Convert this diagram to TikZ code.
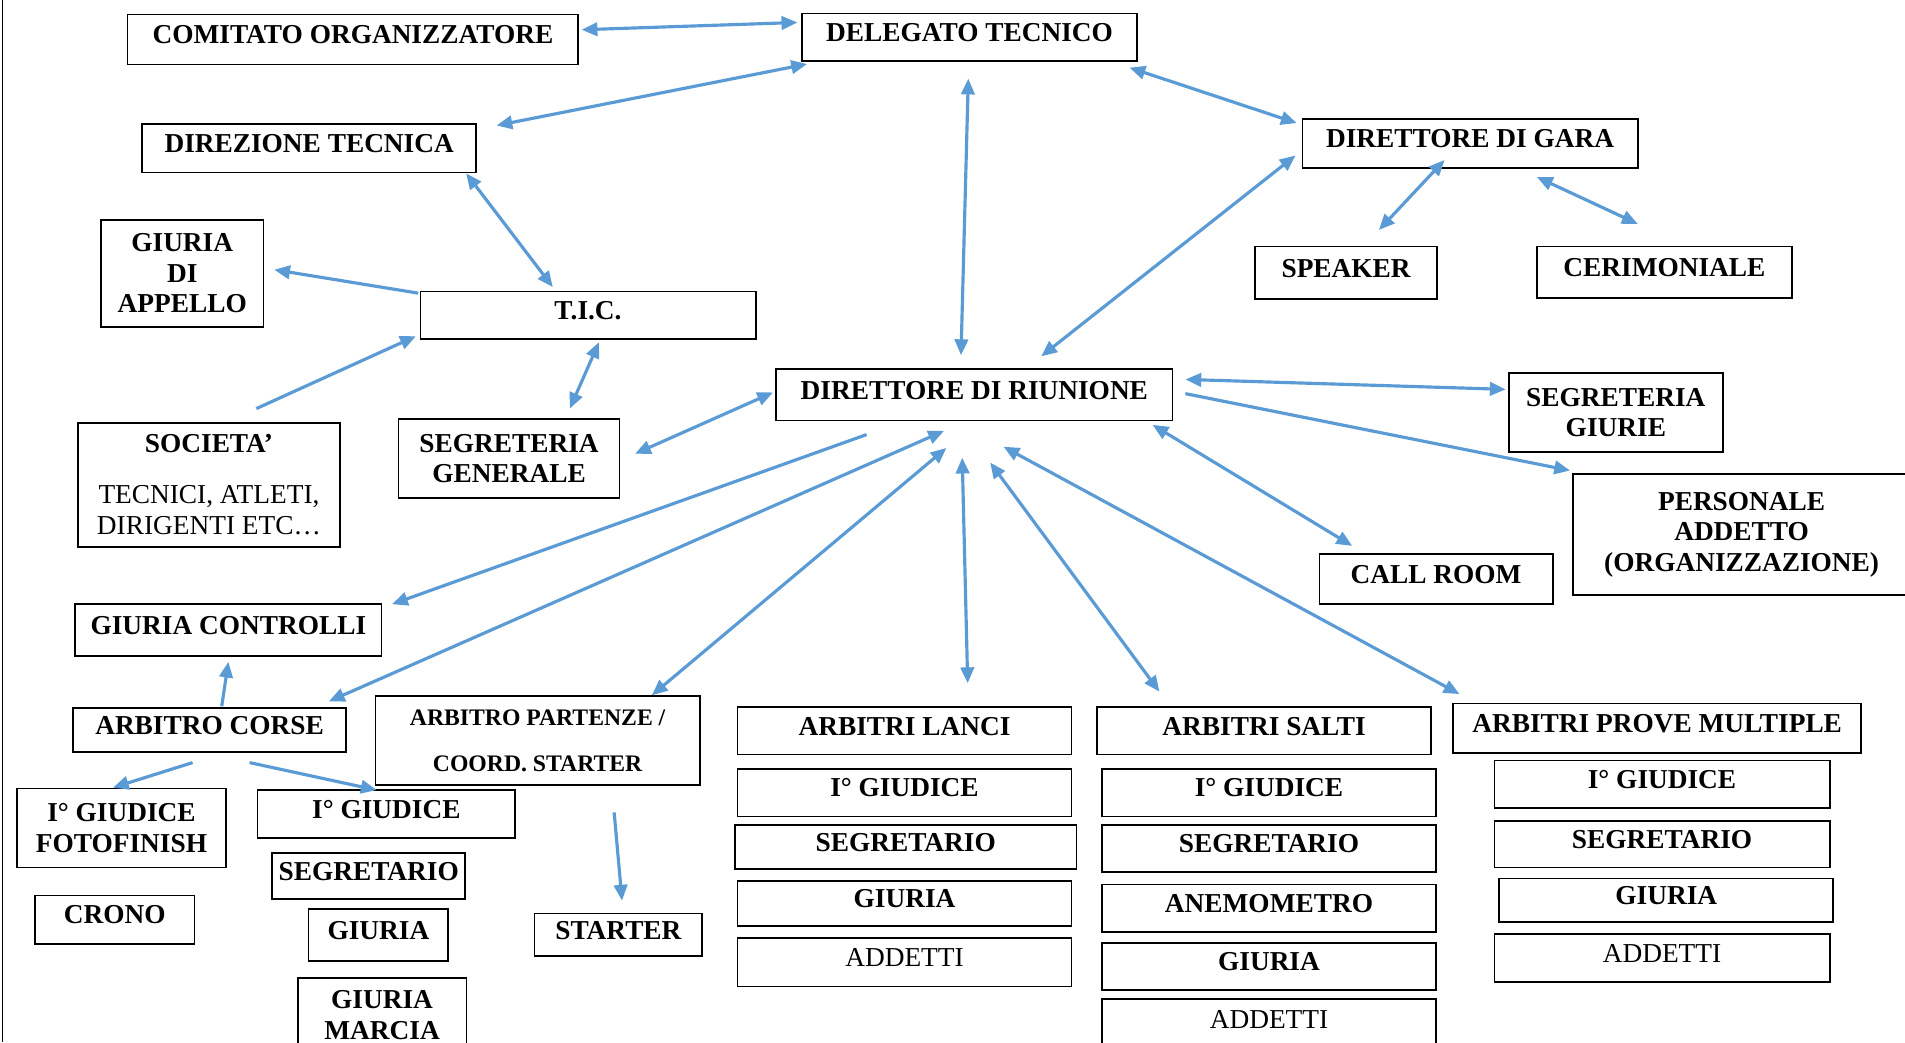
\documentclass[tikz,border=0pt]{standalone}
\usepackage{xcolor}
\usepackage{fontspec}
\setmainfont{Liberation Serif}
\usepackage{tikz}
\usetikzlibrary{arrows.meta,calc}

\definecolor{linkblue}{HTML}{5B9BD5}

\tikzset{
  box/.style={draw, line width=1.4pt, inner sep=0pt, align=center,
    font=\bfseries\fontsize{22.5}{25}\selectfont},
  one/.style={text height=15pt, text depth=8pt},
  link/.style={draw=linkblue, line width=2.6pt,
    >={Triangle[width=11pt,length=13pt]}},
  thin/.style={font=\mdseries\fontsize{22.5}{25}\selectfont}
}

% box from corner (x1,y1) to corner (x2,y2)
\newcommand\orgbox[7][one]{%
  \node[box,#1, minimum width={(#5-#3)*1pt}, minimum height={(#6-#4)*1pt}]
    (#2) at ({(#3+#5)/2},{(#4+#6)/2}) {#7};}

\begin{document}
\begin{tikzpicture}[x=1pt,y=-1pt]
\clip (0,0) rectangle (1568,858);
\fill[white] (0,0) rectangle (1568,858);
\draw[line width=1.2pt] (2,0) -- (2,858);

% top levels
\orgbox{com}{105}{12}{476}{53}{COMITATO ORGANIZZATORE}
\orgbox{del}{660}{11}{936}{50}{DELEGATO TECNICO}
\orgbox{dirtec}{117}{102}{392}{142}{DIREZIONE TECNICA}
\orgbox{dirgara}{1072}{98}{1348}{138}{DIRETTORE DI GARA}
\orgbox[]{appello}{83}{181}{217}{269}{GIURIA\\DI\\APPELLO}
\orgbox{tic}{346}{240}{622}{279}{T.I.C.}
\orgbox{speaker}{1033}{203}{1183}{246}{SPEAKER}
\orgbox{ceri}{1265}{203}{1475}{245}{CERIMONIALE}
\orgbox{riunione}{639}{304}{965}{346}{DIRETTORE DI RIUNIONE}
\orgbox[]{seggiur}{1242}{307}{1418}{372}{SEGRETERIA\\GIURIE}
\orgbox[]{seggen}{328}{345}{510}{410}{SEGRETERIA\\GENERALE}
\orgbox[]{soc}{64}{348}{280}{450}{SOCIETA’\\[17pt]{\mdseries TECNICI, ATLETI,}\\{\mdseries DIRIGENTI ETC\ldots}}
\orgbox[]{pers}{1295}{390}{1572}{490}{PERSONALE\\ADDETTO\\(ORGANIZZAZIONE)}
\orgbox{callroom}{1086}{456}{1278}{497}{CALL ROOM}
\orgbox{giucon}{62}{497}{314}{540}{GIURIA CONTROLLI}

% corse
\orgbox{corse}{60}{583}{285}{619}{ARBITRO CORSE}
\orgbox[font=\bfseries\fontsize{19.5}{38}\selectfont]{partenze}{309}{573}{576}{646}{ARBITRO PARTENZE /\\COORD. STARTER}
\orgbox[]{fotofin}{14}{649}{186}{714}{I° GIUDICE\\FOTOFINISH}
\orgbox{giucorse}{212}{650}{424}{690}{I° GIUDICE}
\orgbox{segcorse}{224}{702}{383}{740}{SEGRETARIO}
\orgbox{crono}{29}{737}{160}{777}{CRONO}
\orgbox{giuria}{254}{748}{369}{791}{GIURIA}
\orgbox{starter}{440}{752}{578}{787}{STARTER}
\orgbox[]{marcia}{245}{805}{384}{866}{GIURIA\\MARCIA}

% lanci
\orgbox{lanci}{607}{582}{882}{621}{ARBITRI LANCI}
\orgbox{lgiu}{607}{633}{882}{672}{I° GIUDICE}
\orgbox{lseg}{605}{679}{886}{715}{SEGRETARIO}
\orgbox{lgiuria}{607}{725}{882}{762}{GIURIA}
\orgbox[thin,one]{ladd}{607}{772}{882}{812}{ADDETTI}

% salti
\orgbox{salti}{903}{582}{1178}{621}{ARBITRI SALTI}
\orgbox{sgiu}{907}{633}{1182}{672}{I° GIUDICE}
\orgbox{sseg}{907}{679}{1182}{718}{SEGRETARIO}
\orgbox{sane}{907}{728}{1182}{767}{ANEMOMETRO}
\orgbox{sgiuria}{907}{776}{1182}{815}{GIURIA}
\orgbox[thin,one]{sadd}{907}{822}{1182}{864}{ADDETTI}

% prove multiple
\orgbox{multi}{1196}{579}{1532}{620}{ARBITRI PROVE MULTIPLE}
\orgbox{mgiu}{1230}{626}{1506}{665}{I° GIUDICE}
\orgbox{mseg}{1230}{676}{1506}{714}{SEGRETARIO}
\orgbox{mgiuria}{1234}{723}{1509}{759}{GIURIA}
\orgbox[thin,one]{madd}{1230}{769}{1506}{808}{ADDETTI}

% links
\draw[link,<->] ($(com.east)+(2,-8)$) -- ($(del.west)+(-3,-12)$);
\draw[link,<->] ($(del.south west)+(5,2)$) -- ($(dirtec.north east)+(16,2)$);
\draw[link,<->] ($(dirtec.south east)+(-9,0)$) -- ($(tic.north)+(-29,-3)$);
\draw[link,->] ($(tic.north west)+(-1,2)$) -- ($(appello.east)+(8,-3)$);
\draw[link,->] ($(soc.north)+(39,-11)$) -- ($(tic.south west)+(-3,-3)$);
\draw[link,<->] ($(tic.south)+(9,2)$) -- ($(seggen.north)+(50,-8)$);
\draw[link,<->] ($(riunione.west)+(-2,-2)$) -- ($(seggen.east)+(12,-4)$);
\draw[link,<->] ($(del.south)+(-1,14)$) -- ($(riunione.north)+(-11,-11)$);
\draw[link,<->] ($(del.south east)+(-7,5)$) -- ($(dirgara.north west)+(-4,4)$);
\draw[link,<->] ($(dirgara.west)+(-5,10)$) -- ($(riunione.north)+(55,-10)$);
\draw[link,<->] ($(dirgara.south)+(-21,-7)$) -- ($(speaker.north)+(27,-13)$);
\draw[link,<->] ($(dirgara.south)+(55,7)$) -- ($(ceri.north)+(-22,-18)$);
\draw[link,<->] ($(riunione.north east)+(10,9)$) -- ($(seggiur.west)+(-2,-19)$);
\draw[link,->] ($(riunione.east)+(10,-1)$) -- ($(pers.north west)+(-2,-2)$);
\draw[link,<->] ($(riunione.south east)+(-17,3)$) -- ($(callroom.north)+(-69,-6)$);
\draw[link,->] ($(riunione.south west)+(75,11)$) -- ($(giucon.north east)+(8,1)$);
\draw[link,<->] ($(riunione.south)+(-25,8)$) -- ($(corse.north east)+(-15,-5)$);
\draw[link,<->] ($(riunione.south)+(-23,22)$) -- ($(partenze.north)+(94,0)$);
\draw[link,<->] ($(riunione.south)+(-10,30)$) -- ($(lanci.north)+(52,-19)$);
\draw[link,<->] ($(riunione.south)+(13,34)$) -- ($(salti.north west)+(52,-12)$);
\draw[link,<->] ($(riunione.south)+(24,21)$) -- ($(multi.north west)+(6,-7)$);
\draw[link,->] ($(corse.north)+(10,-1)$) -- ($(giucon.south)+(0,4)$);
\draw[link,->] ($(corse.south)+(-14,8)$) -- ($(fotofin.north)+(-7,0)$);
\draw[link,->] ($(corse.south)+(33,8)$) -- ($(giucorse.north)+(-8,1)$);
\draw[link,->] ($(partenze.south)+(63,22)$) -- ($(starter.north)+(3,-10)$);
\end{tikzpicture}
\end{document}
